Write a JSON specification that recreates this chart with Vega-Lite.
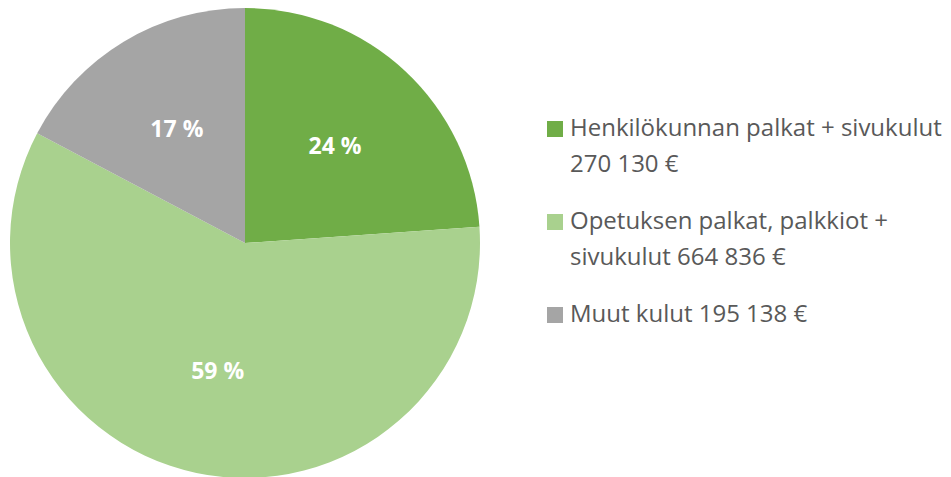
{
  "$schema": "https://vega.github.io/schema/vega-lite/v6.json",
  "width": 490,
  "height": 486,
  "padding": 0,
  "background": "white",
  "view": {"stroke": null},
  "data": {
    "values": [
      {"label": "Henkilökunnan palkat + sivukulut|270 130 €", "value": 270130, "pct": "24 %", "order": 1},
      {"label": "Opetuksen palkat, palkkiot +|sivukulut 664 836 €", "value": 664836, "pct": "59 %", "order": 2},
      {"label": "Muut kulut 195 138 €", "value": 195138, "pct": "17 %", "order": 3}
    ]
  },
  "encoding": {
    "theta": {"field": "value", "type": "quantitative", "stack": true},
    "order": {"field": "order", "type": "quantitative"},
    "color": {
      "field": "label",
      "type": "nominal",
      "sort": null,
      "scale": {
        "domain": ["Henkilökunnan palkat + sivukulut|270 130 €", "Opetuksen palkat, palkkiot +|sivukulut 664 836 €", "Muut kulut 195 138 €"],
        "range": ["#70AD47", "#A9D18E", "#A5A5A5"]
      },
      "legend": {
        "orient": "none",
        "legendX": 543,
        "legendY": 117,
        "title": null,
        "labelExpr": "split(datum.label, '|')",
        "labelFont": "Open Sans",
        "labelFontSize": 24,
        "labelColor": "#595959",
        "labelLimit": 600,
        "labelOffset": 3,
        "labelBaseline": "middle",
        "symbolType": "square",
        "symbolSize": 256,
        "symbolStrokeWidth": 0,
        "rowPadding": 33,
        "encode": {"labels": {"update": {"lineHeight": {"value": 36}}}}
      }
    }
  },
  "layer": [
    {"mark": {"type": "arc", "outerRadius": 235}},
    {
      "mark": {"type": "text", "radius": 132, "fontSize": 23, "fontWeight": "bold", "font": "Open Sans"},
      "encoding": {
        "text": {"field": "pct", "type": "nominal"},
        "color": {"value": "white"},
        "detail": {"field": "label", "type": "nominal"}
      }
    }
  ]
}
